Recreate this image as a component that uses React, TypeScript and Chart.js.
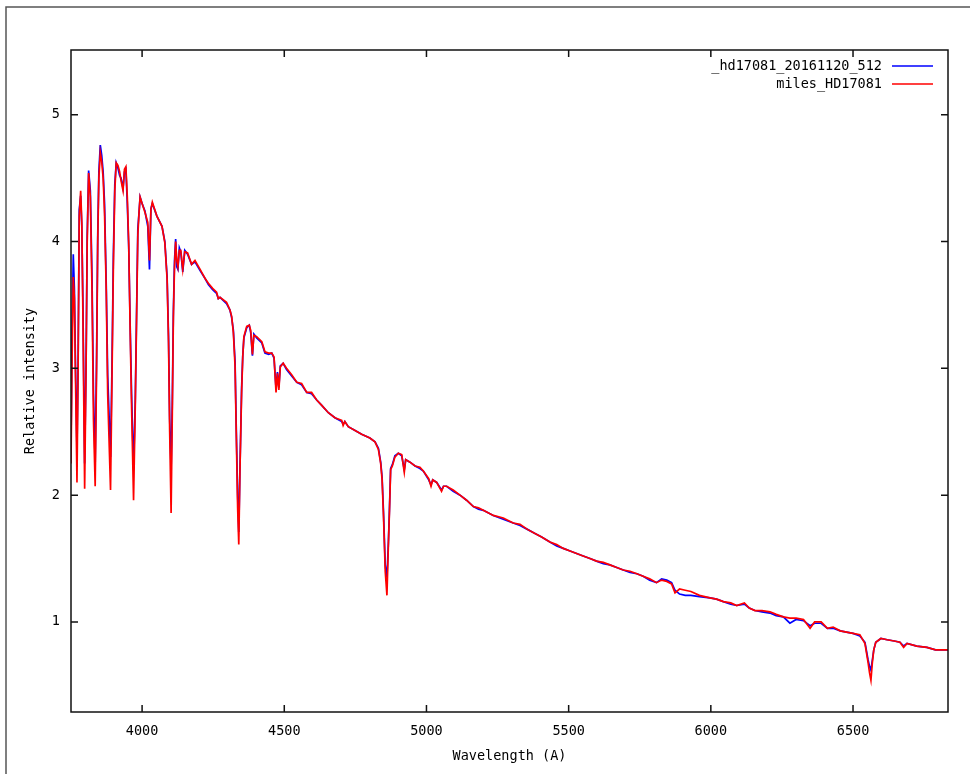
import { useEffect, useRef } from 'react';
import { Chart, registerables } from 'chart.js';

Chart.register(...registerables);

const seriesNames = ['_hd17081_20161120_512', 'miles_HD17081'];
const xTicks = [4000, 4500, 5000, 5500, 6000, 6500];
const yTicks = [1, 2, 3, 4, 5];

const wavelengths = [
  3750, 3754, 3758, 3762, 3766, 3771, 3775, 3779, 3784, 3788, 3792, 3798, 3803, 3807, 3812, 3818,
  3824, 3829, 3835, 3840, 3844, 3848, 3853, 3858, 3863, 3868, 3874, 3879, 3889, 3894, 3899, 3904,
  3909, 3915, 3921, 3926, 3933, 3938, 3943, 3948, 3953, 3958, 3963, 3970, 3976, 3981, 3985, 3989,
  3993, 4000, 4010, 4020, 4026, 4031, 4036, 4052, 4070, 4080, 4088, 4093, 4097, 4102, 4106, 4110,
  4114, 4118, 4122, 4126, 4131, 4136, 4143, 4150, 4160, 4174, 4186, 4204, 4221, 4233, 4248, 4262,
  4268, 4274, 4297, 4309, 4315, 4321, 4327, 4331, 4336, 4340, 4344, 4350, 4354, 4358, 4368, 4377,
  4382, 4388, 4393, 4403, 4421, 4432, 4445, 4456, 4464, 4471, 4476, 4481, 4486, 4496, 4508, 4526,
  4544, 4561, 4579, 4596, 4614, 4631, 4655, 4678, 4702, 4707, 4713, 4725, 4749, 4772, 4801, 4819,
  4831, 4839, 4844, 4849, 4855, 4861, 4866, 4870, 4874, 4880, 4889, 4901, 4913, 4922, 4927, 4942,
  4960, 4977, 4989, 5008, 5016, 5022, 5036, 5053, 5060, 5071, 5094, 5118, 5141, 5165, 5183, 5200,
  5235, 5270, 5305, 5329, 5355, 5380, 5405, 5434, 5458, 5481, 5505, 5528, 5551, 5575, 5598, 5622,
  5645, 5669, 5692, 5716, 5740, 5762, 5785, 5809, 5827, 5845, 5862, 5874, 5890, 5910, 5930, 5960,
  5997, 6020, 6044, 6070, 6091, 6118, 6135, 6155, 6180, 6208, 6230, 6255, 6278, 6300, 6326, 6349,
  6365, 6388, 6410, 6430, 6455, 6477, 6500, 6524, 6542, 6553, 6558, 6563, 6568, 6573, 6580, 6598,
  6620, 6645, 6665, 6678, 6690, 6724, 6760, 6790, 6834,
];

const milesFlux = [
  2.25, 3.10, 3.72, 3.55, 2.90, 2.10, 3.00, 4.20, 4.40, 4.15, 3.40, 2.05, 3.00, 4.00, 4.54, 4.35,
  3.60, 2.60, 2.07, 3.00, 4.00, 4.50, 4.70, 4.63, 4.50, 4.22, 3.60, 2.80, 2.04, 2.90, 3.80, 4.40,
  4.62, 4.60, 4.55, 4.48, 4.40, 4.57, 4.59, 4.35, 3.98, 3.30, 2.70, 1.96, 2.70, 3.45, 4.05, 4.22,
  4.35, 4.30, 4.23, 4.15, 3.85, 4.25, 4.31, 4.20, 4.12, 3.99, 3.70, 3.20, 2.50, 1.86, 2.60, 3.40,
  3.80, 4.00, 3.85, 3.80, 3.93, 3.93, 3.78, 3.92, 3.91, 3.82, 3.85, 3.78, 3.71, 3.67, 3.63, 3.60,
  3.55, 3.56, 3.52, 3.46, 3.41, 3.28, 3.01, 2.50, 1.90, 1.61, 2.18, 2.81, 3.09, 3.25, 3.33, 3.34,
  3.30, 3.11, 3.26, 3.25, 3.21, 3.13, 3.12, 3.12, 3.09, 2.81, 2.96, 2.83, 3.01, 3.04, 3.00, 2.95,
  2.89, 2.88, 2.81, 2.81, 2.75, 2.71, 2.65, 2.61, 2.59, 2.55, 2.58, 2.54, 2.51, 2.48, 2.45, 2.42,
  2.36, 2.25, 2.12, 1.83, 1.40, 1.21, 1.60, 1.88, 2.20, 2.23, 2.30, 2.33, 2.32, 2.18, 2.28, 2.26,
  2.23, 2.22, 2.19, 2.13, 2.07, 2.12, 2.10, 2.03, 2.07, 2.07, 2.04, 2.00, 1.96, 1.91, 1.90, 1.88,
  1.84, 1.82, 1.78, 1.77, 1.73, 1.70, 1.67, 1.63, 1.61, 1.58, 1.56, 1.54, 1.52, 1.50, 1.48, 1.47,
  1.45, 1.43, 1.41, 1.40, 1.38, 1.36, 1.34, 1.31, 1.33, 1.32, 1.30, 1.23, 1.26, 1.25, 1.24, 1.21,
  1.19, 1.18, 1.16, 1.15, 1.13, 1.15, 1.11, 1.09, 1.09, 1.08, 1.06, 1.04, 1.03, 1.03, 1.02, 0.95,
  1.00, 1.00, 0.95, 0.96, 0.93, 0.92, 0.91, 0.90, 0.83, 0.68, 0.60, 0.54, 0.68, 0.78, 0.84, 0.87,
  0.86, 0.85, 0.84, 0.80, 0.83, 0.81, 0.80, 0.78, 0.78,
];

const hdFlux = [
  2.40, 3.30, 3.90, 3.62, 3.00, 2.35, 3.05, 4.25, 4.36, 4.12, 3.50, 2.25, 3.05, 4.05, 4.56, 4.40,
  3.70, 2.80, 2.25, 3.10, 4.05, 4.55, 4.76, 4.68, 4.55, 4.30, 3.65, 2.95, 2.30, 3.00, 3.90, 4.45,
  4.62, 4.58, 4.52, 4.50, 4.42, 4.55, 4.57, 4.30, 3.95, 3.35, 2.80, 2.20, 2.75, 3.50, 4.10, 4.22,
  4.35, 4.30, 4.24, 4.12, 3.78, 4.26, 4.30, 4.20, 4.12, 4.00, 3.72, 3.25, 2.60, 2.20, 2.70, 3.45,
  3.85, 4.02, 3.80, 3.78, 3.95, 3.92, 3.76, 3.93, 3.90, 3.82, 3.84, 3.77, 3.71, 3.66, 3.62, 3.59,
  3.55, 3.56, 3.51, 3.46, 3.40, 3.30, 3.05, 2.55, 2.00, 1.71, 2.20, 2.85, 3.10, 3.24, 3.32, 3.34,
  3.28, 3.10, 3.27, 3.24, 3.20, 3.12, 3.11, 3.12, 3.08, 2.84, 2.97, 2.85, 3.02, 3.04, 2.99, 2.94,
  2.89, 2.87, 2.81, 2.80, 2.75, 2.71, 2.65, 2.61, 2.58, 2.56, 2.58, 2.54, 2.51, 2.48, 2.45, 2.42,
  2.37, 2.26, 2.14, 1.86, 1.45, 1.35, 1.62, 1.90, 2.21, 2.24, 2.31, 2.33, 2.31, 2.20, 2.28, 2.26,
  2.23, 2.21, 2.19, 2.12, 2.08, 2.12, 2.10, 2.04, 2.07, 2.07, 2.03, 2.00, 1.96, 1.91, 1.89, 1.88,
  1.84, 1.81, 1.78, 1.76, 1.73, 1.70, 1.67, 1.63, 1.60, 1.58, 1.56, 1.54, 1.52, 1.50, 1.48, 1.46,
  1.45, 1.43, 1.41, 1.39, 1.38, 1.36, 1.33, 1.31, 1.34, 1.33, 1.31, 1.25, 1.22, 1.21, 1.21, 1.20,
  1.19, 1.18, 1.16, 1.14, 1.13, 1.14, 1.11, 1.09, 1.08, 1.07, 1.05, 1.04, 0.99, 1.02, 1.01, 0.97,
  0.99, 0.99, 0.95, 0.95, 0.93, 0.92, 0.91, 0.89, 0.84, 0.70, 0.65, 0.62, 0.70, 0.78, 0.84, 0.87,
  0.86, 0.85, 0.84, 0.81, 0.83, 0.81, 0.80, 0.78, 0.78,
];

const FONT = 'DejaVu Sans Mono';

const gnuplotFrame = {
  id: 'gnuplotFrame',
  beforeDraw(chart: any) {
    const { ctx, width, height } = chart;
    ctx.save();
    ctx.fillStyle = '#ffffff';
    ctx.fillRect(0, 0, width, height);
    ctx.strokeStyle = '#555555';
    ctx.lineWidth = 1.5;
    ctx.beginPath();
    ctx.moveTo(6, height);
    ctx.lineTo(6, 7);
    ctx.lineTo(width, 7);
    ctx.stroke();
    ctx.restore();
  },
  afterDraw(chart: any) {
    const { ctx, chartArea } = chart;
    const { left, right, top, bottom } = chartArea;
    const xs = chart.scales.x;
    const ys = chart.scales.y;
    ctx.save();
    ctx.strokeStyle = '#111111';
    ctx.lineWidth = 1.5;
    ctx.strokeRect(left, top, right - left, bottom - top);
    const tl = 7;
    ctx.beginPath();
    xs.ticks.forEach((t: any) => {
      const px = xs.getPixelForValue(t.value);
      ctx.moveTo(px, bottom);
      ctx.lineTo(px, bottom - tl);
      ctx.moveTo(px, top);
      ctx.lineTo(px, top + tl);
    });
    ys.ticks.forEach((t: any) => {
      const py = ys.getPixelForValue(t.value);
      ctx.moveTo(left, py);
      ctx.lineTo(left + tl, py);
      ctx.moveTo(right, py);
      ctx.lineTo(right - tl, py);
    });
    ctx.stroke();

    // legend (gnuplot style: text right-aligned, sample line on the right)
    const colors = ['#0000ff', '#ff0000'];
    ctx.font = `13.5px "${FONT}"`;
    ctx.textAlign = 'right';
    ctx.textBaseline = 'middle';
    ctx.fillStyle = '#000000';
    seriesNames.forEach((name, i) => {
      const y = 66 + i * 18;
      ctx.fillText(name, 882, y);
      ctx.strokeStyle = colors[i];
      ctx.lineWidth = 1.5;
      ctx.beginPath();
      ctx.moveTo(892, y);
      ctx.lineTo(933, y);
      ctx.stroke();
    });
    ctx.restore();
  },
};

export default function App() {
  const canvasRef = useRef<HTMLCanvasElement | null>(null);

  useEffect(() => {
    if (!canvasRef.current) return;
    const toPoints = (vals: number[]) => wavelengths.map((w, i) => ({ x: w, y: vals[i] }));
    const chart = new Chart(canvasRef.current, {
      type: 'line',
      data: {
        datasets: [
          {
            label: seriesNames[1],
            data: toPoints(milesFlux),
            borderColor: '#ff0000',
            backgroundColor: '#ff0000',
            borderWidth: 1.7,
            pointRadius: 0,
            tension: 0,
          },
          {
            label: seriesNames[0],
            data: toPoints(hdFlux),
            borderColor: '#0000ff',
            backgroundColor: '#0000ff',
            borderWidth: 1.7,
            pointRadius: 0,
            tension: 0,
          },
        ],
      },
      options: {
        responsive: false,
        animation: false,
        events: [],
        layout: { padding: { left: 0, top: 50, right: 22, bottom: 0 } },
        plugins: { legend: { display: false }, tooltip: { enabled: false } },
        scales: {
          x: {
            type: 'linear',
            min: 3750,
            max: 6834,
            afterBuildTicks: (s: any) => {
              s.ticks = xTicks.map((v) => ({ value: v }));
            },
            afterFit: (s: any) => {
              s.height = 62;
            },
            ticks: {
              autoSkip: false,
              maxRotation: 0,
              padding: 11,
              color: '#000000',
              font: { family: FONT, size: 13.5 },
              callback: (v: any) => String(v),
            },
            grid: { display: false, drawTicks: false },
            border: { display: false },
            title: {
              display: true,
              text: 'Wavelength (A)',
              color: '#000000',
              font: { family: FONT, size: 13.5 },
              padding: { top: 0, bottom: 9 },
            },
          },
          y: {
            type: 'linear',
            min: 0.29,
            max: 5.51,
            afterBuildTicks: (s: any) => {
              s.ticks = yTicks.map((v) => ({ value: v }));
            },
            afterFit: (s: any) => {
              s.width = 71;
            },
            ticks: {
              padding: 11,
              color: '#000000',
              font: { family: FONT, size: 13.5 },
              callback: (v: any) => String(v),
            },
            grid: { display: false, drawTicks: false },
            border: { display: false },
            title: {
              display: true,
              text: 'Relative intensity',
              color: '#000000',
              font: { family: FONT, size: 13.5 },
              padding: { top: 22, bottom: 0 },
            },
          },
        },
      },
      plugins: [gnuplotFrame],
    });
    return () => chart.destroy();
  }, []);

  return (
    <div style={{ position: 'absolute', left: 0, top: 0, width: 970, height: 774, background: '#fff' }}>
      <canvas ref={canvasRef} width={970} height={774} style={{ display: 'block' }} />
    </div>
  );
}
